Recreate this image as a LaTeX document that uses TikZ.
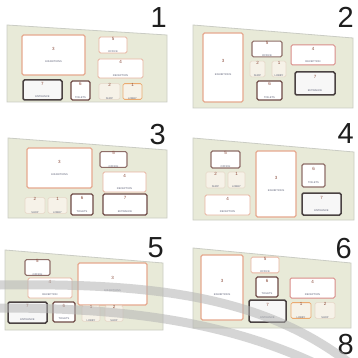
\documentclass[tikz,border=0pt]{standalone}
\usepackage{fontspec}
\setmainfont{Liberation Sans}
\definecolor{panelfill}{HTML}{E8EAD8}
\definecolor{paneledge}{HTML}{CACCC4}
\definecolor{exhedge}{HTML}{E6A88E}
\definecolor{lightedge}{HTML}{E8B4A0}
\definecolor{pinkedge}{HTML}{D98C88}
\definecolor{orangeedge}{HTML}{EBAA70}
\definecolor{faintedge}{HTML}{E6D8C8}
\definecolor{faintfill}{HTML}{F6F2E8}
\definecolor{midedge}{HTML}{8E6E68}
\definecolor{brownedge}{HTML}{6E4A46}
\definecolor{darkedge}{HTML}{4A4242}
\definecolor{numcol}{HTML}{8A4A3A}
\definecolor{lblcol}{HTML}{5A5E74}
\definecolor{bigcol}{HTML}{1E1E1E}
\definecolor{bandcol}{HTML}{B4B4B4}
\newcommand\roomnum[1]{{\fontsize{4.5}{4.5}\selectfont\color{numcol}#1}}
\newcommand\roomlbl[1]{{\fontsize{2.6}{3}\selectfont\color{lblcol}#1}}
\newcommand\roomnode[8]{%
  \node[#2, minimum width={(#5-#3)*1pt}, minimum height={(#6-#4)*1pt}]
    (#1) at ({(#3+#5)/2},{(#4+#6)/2}) {\roomnum{#7}\\[0.6pt]\roomlbl{#8}};}
\begin{document}
\begin{tikzpicture}[x=1pt,y=-1pt,
  panel/.style={fill=panelfill,draw=paneledge,line width=0.8pt},
  room/.style={rectangle,rounded corners=1.5pt,fill=white,align=center,inner sep=0pt,line width=0.8pt},
  exhibit/.style={room,draw=exhedge,line width=1.3pt},
  lightbox/.style={room,draw=lightedge},
  pinkbox/.style={room,draw=pinkedge,line width=1pt},
  orangebox/.style={room,draw=orangeedge,fill=faintfill},
  faintbox/.style={room,draw=faintedge,fill=faintfill,line width=0.6pt},
  midbox/.style={room,draw=midedge,line width=1.1pt},
  brownbox/.style={room,draw=brownedge,line width=1.3pt},
  darkbox/.style={room,draw=darkedge,line width=1.5pt,fill=black!3},
  bignum/.style={font=\fontsize{29}{29}\selectfont,text=bigcol,inner sep=0pt,anchor=base east},
  band/.style={draw=bandcol,line width=9pt,opacity=0.55}]
\useasboundingbox (0,0) rectangle (358,358);
\fill[white] (0,0) rectangle (358,358);

% panels
\draw[panel] (7,25) -- (167,35) -- (167,102) -- (7,102) -- cycle;
\draw[panel] (193,25) -- (353,38) -- (353,108) -- (193,108) -- cycle;
\draw[panel] (8,138) -- (167,150) -- (167,218) -- (8,218) -- cycle;
\draw[panel] (193,138) -- (354,152) -- (354,220) -- (193,220) -- cycle;
\draw[panel] (5,250) -- (163,263) -- (163,330) -- (5,330) -- cycle;
\draw[panel] (193,248) -- (351,263) -- (351,328) -- (193,328) -- cycle;

% big numbers
\node[bignum] (n1) at (167,28) {1};
\node[bignum] (n2) at (354,28) {2};
\node[bignum] (n3) at (166,145) {3};
\node[bignum] (n4) at (354,143) {4};
\node[bignum] (n5) at (164,257) {5};
\node[bignum] (n6) at (352,258) {6};
\node[bignum] (n8) at (354,354) {8};

% panel 1
\roomnode{p1r3}{exhibit}{22}{35}{85}{75}{3}{EXHIBITIONS}
\roomnode{p1r5}{lightbox}{99}{37}{127}{53}{5}{OFFICE}
\roomnode{p1r4}{lightbox}{98}{59}{143}{78}{4}{RECEPTION}
\roomnode{p1r7}{darkbox}{23}{80}{62}{100}{7}{ENTRANCE}
\roomnode{p1r6}{brownbox}{71}{81}{90}{100}{6}{TOILETS}
\roomnode{p1r2}{faintbox}{99}{85}{120}{98}{2}{SHOP}
\roomnode{p1r1}{orangebox}{123}{85}{142}{98}{1}{LOBBY}

% panel 2
\roomnode{p2r3}{exhibit}{203}{33}{243}{102}{3}{EXHIBITIONS}
\roomnode{p2r5}{midbox}{252}{42}{282}{56}{5}{OFFICE}
\roomnode{p2r4}{pinkbox}{291}{45}{335}{65}{4}{RECEPTION}
\roomnode{p2r2}{faintbox}{250}{62}{265}{76}{2}{SHOP}
\roomnode{p2r1}{faintbox}{272}{62}{286}{76}{1}{LOBBY}
\roomnode{p2r6}{brownbox}{257}{81}{282}{100}{6}{TOILETS}
\roomnode{p2r7}{darkbox}{295}{72}{335}{95}{7}{ENTRANCE}

% panel 3
\roomnode{p3r3}{exhibit}{27}{148}{92}{188}{3}{EXHIBITIONS}
\roomnode{p3r5}{midbox}{100}{152}{127}{167}{5}{OFFICE}
\roomnode{p3r4}{lightbox}{103}{172}{146}{192}{4}{RECEPTION}
\roomnode{p3r7}{brownbox}{103}{194}{147}{215}{7}{ENTRANCE}
\roomnode{p3r6}{brownbox}{71}{194}{93}{215}{6}{TOILETS}
\roomnode{p3r2}{faintbox}{25}{198}{45}{213}{2}{SHOP}
\roomnode{p3r1}{faintbox}{48}{198}{67}{213}{1}{LOBBY}

% panel 4
\roomnode{p4r5}{midbox}{211}{151}{240}{168}{5}{OFFICE}
\roomnode{p4r2}{faintbox}{206}{172}{225}{188}{2}{SHOP}
\roomnode{p4r1}{faintbox}{228}{172}{245}{188}{1}{LOBBY}
\roomnode{p4r4}{lightbox}{205}{195}{250}{215}{4}{RECEPTION}
\roomnode{p4r3}{exhibit}{256}{151}{296}{217}{3}{EXHIBITIONS}
\roomnode{p4r6}{midbox}{302}{164}{325}{187}{6}{TOILETS}
\roomnode{p4r7}{darkbox}{302}{193}{341}{215}{7}{ENTRANCE}

% panel 5
\roomnode{p5r5}{midbox}{25}{260}{50}{275}{5}{OFFICE}
\roomnode{p5r4}{lightbox}{28}{278}{72}{298}{4}{RECEPTION}
\roomnode{p5r3}{exhibit}{78}{263}{147}{305}{3}{EXHIBITIONS}
\roomnode{p5r7}{darkbox}{8}{302}{47}{323}{7}{ENTRANCE}
\roomnode{p5r6}{brownbox}{53}{302}{75}{322}{6}{TOILETS}
\roomnode{p5r1}{faintbox}{82}{307}{100}{320}{1}{LOBBY}
\roomnode{p5r2}{faintbox}{105}{307}{123}{320}{2}{SHOP}

% panel 6
\roomnode{p6r3}{exhibit}{201}{255}{243}{320}{3}{EXHIBITIONS}
\roomnode{p6r5}{lightbox}{251}{258}{279}{272}{5}{OFFICE}
\roomnode{p6r6}{brownbox}{256}{277}{278}{297}{6}{TOILETS}
\roomnode{p6r7}{darkbox}{249}{300}{286}{322}{7}{ENTRANCE}
\roomnode{p6r4}{pinkbox}{290}{278}{335}{298}{4}{RECEPTION}
\roomnode{p6r1}{orangebox}{291}{303}{311}{318}{1}{LOBBY}
\roomnode{p6r2}{faintbox}{315}{303}{335}{318}{2}{SHOP}

% watermark bands
\path[band] (0,285) .. controls (150,283) and (260,295) .. (348,362);
\path[band] (0,308) .. controls (120,308) and (220,320) .. (312,362);
\end{tikzpicture}
\end{document}
